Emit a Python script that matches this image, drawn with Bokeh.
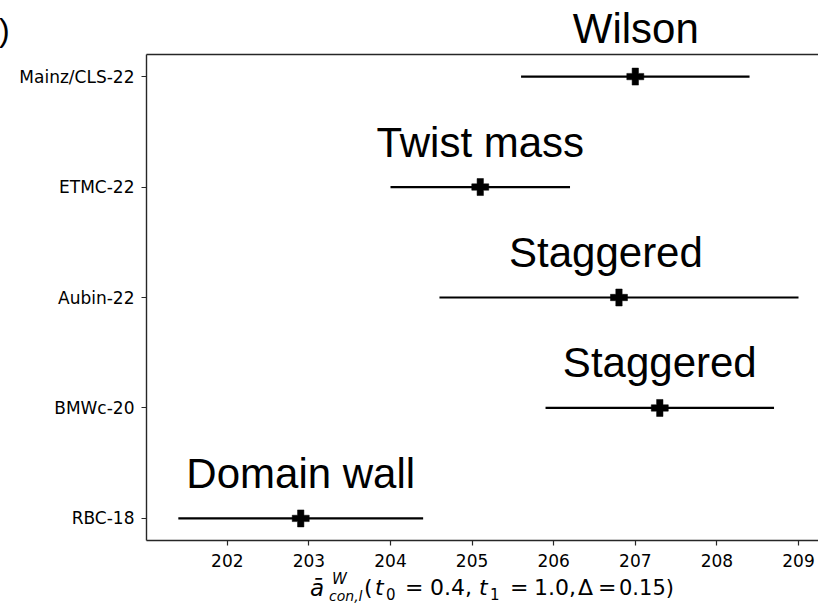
from bokeh.plotting import figure
from bokeh.models import Range1d, LinearAxis, FixedTicker, Label, ColumnDataSource, Div
from bokeh.layouts import column
from bokeh.embed import file_html
from bokeh.resources import INLINE

# ---- data ----
collaborations = ["RBC-18", "BMWc-20", "Aubin-22", "ETMC-22", "Mainz/CLS-22"]
central = [202.9, 207.3, 206.8, 205.1, 207.0]
error = [1.5, 1.4, 2.2, 1.1, 1.4]
methods = ["Domain wall", "Staggered", "Staggered", "Twist mass", "Wilson"]
method_label_x = [202.9, 207.3, 206.64, 205.1, 207.0]
x_ticks = [202, 203, 204, 205, 206, 207, 208, 209]

# ---- layout geometry (px) ----
W, H = 818, 603
X0, X1 = 201.01, 209.245
FL = 146                 # frame left
FT, FBOT = 54, 540       # frame top / bottom on the page
TOP_H = 52               # header strip height
MB = 34                  # bottom border of the plot
PH = (FBOT - TOP_H) + MB
BOT_H = H - TOP_H - PH
PX_PER_X = (W - FL) / (X1 - X0)

ypos = list(range(len(collaborations)))
src = ColumnDataSource(dict(
    y=ypos, c=central,
    lo=[c - e for c, e in zip(central, error)],
    hi=[c + e for c, e in zip(central, error)],
))

p = figure(width=W, height=PH, output_backend="svg", toolbar_location=None,
           x_range=Range1d(X0, X1), y_range=Range1d(-0.2, 4.2),
           min_border_left=FL, min_border_right=0, min_border_top=FT - TOP_H,
           min_border_bottom=MB)
p.title.visible = False
p.outline_line_color = None
p.grid.visible = False
p.background_fill_color = "white"
p.border_fill_color = "white"

SPINE = "#262626"
for ax in (p.xaxis[0], p.yaxis[0]):
    ax.axis_line_color = SPINE
    ax.axis_line_width = 1.4
    ax.major_tick_line_color = SPINE
    ax.major_tick_line_width = 1.2
    ax.major_tick_out = 5
    ax.major_tick_in = 0
    ax.minor_tick_line_color = None
    ax.major_label_text_font = "DejaVu Sans"
    ax.major_label_text_font_size = "17px"
    ax.major_label_text_color = "black"

p.xaxis.ticker = FixedTicker(ticks=x_ticks)
p.xaxis.major_label_standoff = 8
p.yaxis.ticker = FixedTicker(ticks=ypos)
p.yaxis.major_label_overrides = {i: n for i, n in zip(ypos, collaborations)}
p.yaxis.major_label_standoff = 7

top = LinearAxis(ticker=FixedTicker(ticks=[]), axis_line_color=SPINE,
                 axis_line_width=1.4, major_tick_line_color=None,
                 minor_tick_line_color=None, major_label_text_font_size="0px")
p.add_layout(top, "above")

# error bars and markers
p.segment(x0="lo", y0="y", x1="hi", y1="y", source=src,
          line_color="black", line_width=2.2)
p.scatter(x="c", y="y", source=src, marker="plus", size=17,
          fill_color="black", line_color="black", line_width=0.5)

# method annotations inside the frame (the top one lies above the frame)
for mx, yy, m in zip(method_label_x[:-1], ypos[:-1], methods[:-1]):
    p.add_layout(Label(x=mx, y=yy, text=m, text_font="Liberation Sans",
                       text_font_size="42px", text_align="center",
                       text_baseline="alphabetic", y_offset=45,
                       text_color="black"))

def span(txt, left, baseline, size, font="DejaVu Sans", style="normal",
         center=False):
    top_px = baseline - 0.847 * size
    extra = ""
    if center:
        left -= 200
        extra = "width:400px;text-align:center;"
    return (f'<span style="position:absolute;left:{left:.1f}px;top:{top_px:.1f}px;'
            f"font-family:'{font}';font-size:{size}px;font-style:{style};"
            f'line-height:1;white-space:nowrap;color:black;{extra}">{txt}</span>')

# ---- header strip: clipped panel tag and the top method label ----
wilson_cx = FL + (method_label_x[-1] - X0) * PX_PER_X
top_html = ('<div style="position:relative;width:%dpx;height:%dpx;">' % (W, TOP_H)
            + span(")", -1, 41, 32, font="Liberation Sans")
            + span(methods[-1], wilson_cx + 1, 44, 42, font="Liberation Sans", center=True)
            + "</div>")
top_div = Div(text=top_html, width=W, height=TOP_H, margin=(0, 0, 0, 0))

# ---- x-axis label strip (math-like layout) ----
B = TOP_H + PH   # page y of the strip top
pieces = [
    ("ā", 310, 596, 23, "italic"),
    ("W", 332, 585, 15, "italic"),
    ("con,l", 329, 601, 14, "italic"),
    ("(", 364, 596, 22, "normal"),
    ("t", 375, 596, 22, "italic"),
    ("0", 386, 601, 15, "normal"),
    ("=", 405, 596, 22, "normal"),
    ("0.4,", 430, 596, 22, "normal"),
    ("t", 479, 596, 22, "italic"),
    ("1", 490, 601, 15, "normal"),
    ("=", 510, 596, 22, "normal"),
    ("1.0,", 534, 596, 22, "normal"),
    ("Δ", 578, 596, 22, "normal"),
    ("=", 598, 596, 22, "normal"),
    ("0.15)", 619, 596, 21, "normal"),
]
bot_html = ('<div style="position:relative;width:%dpx;height:%dpx;">' % (W, BOT_H)
            + "".join(span(t, x, base - B, fs, style=st) for t, x, base, fs, st in pieces)
            + "</div>")
bot_div = Div(text=bot_html, width=W, height=BOT_H, margin=(0, 0, 0, 0))

layout = column(top_div, p, bot_div, spacing=0)
open("out.html", "w").write(file_html(layout, INLINE))
